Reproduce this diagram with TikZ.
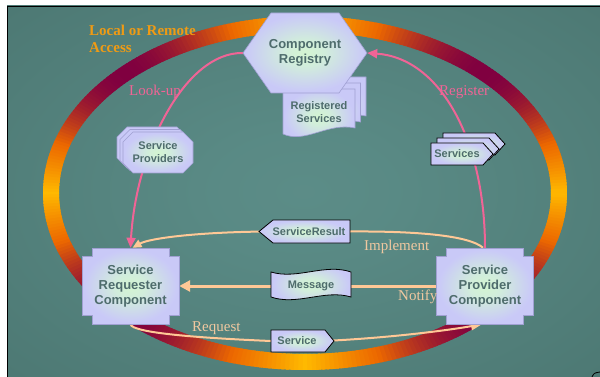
\documentclass[tikz,border=0pt]{standalone}
\usepackage{fontspec}
\setmainfont{Liberation Serif}
\setsansfont{Liberation Sans}
\usetikzlibrary{arrows.meta}

\definecolor{txtc}{RGB}{78,108,108}
\definecolor{lavEdge}{RGB}{160,160,210}
\definecolor{pinkc}{RGB}{240,100,150}
\definecolor{peachc}{RGB}{255,200,150}
\definecolor{peachtxt}{RGB}{240,200,160}
\definecolor{accessc}{RGB}{240,155,20}
\definecolor{ringYellow}{RGB}{255,185,0}
\definecolor{ringOrange}{RGB}{236,104,0}
\definecolor{ringMaroon}{RGB}{128,0,64}

\pgfdeclarelayer{back}
\pgfdeclarelayer{lines}
\pgfsetlayers{back,lines,main}

\pgfdeclareradialshading{slideglow}{\pgfpoint{0bp}{0bp}}{rgb(0bp)=(0.36,0.55,0.53); rgb(8bp)=(0.35,0.54,0.52); rgb(45bp)=(0.285,0.45,0.43); rgb(100bp)=(0.285,0.45,0.43)}
\pgfdeclareradialshading{nodeglow}{\pgfpoint{0bp}{0bp}}{rgb(0bp)=(0.83,0.96,0.82); rgb(8bp)=(0.82,0.93,0.86); rgb(24bp)=(0.79,0.79,0.97); rgb(100bp)=(0.79,0.79,0.97)}

\begin{document}
\begin{tikzpicture}[x=1pt, y=-1pt,
	comp/.style={font=\sffamily\bfseries\fontsize{13}{15}\selectfont, text=txtc, align=center, inner sep=0pt},
	item/.style={font=\sffamily\bfseries\fontsize{11}{13}\selectfont, text=txtc, align=center, inner sep=0pt},
	lbl/.style={font=\fontsize{15}{17}\selectfont, anchor=base west, inner sep=0pt},
	compshape/.style={shading=nodeglow, draw=lavEdge, line width=0.6pt},
	pageshape/.style={shading=nodeglow, draw=lavEdge, line width=0.6pt},
	itemshape/.style={shading=nodeglow, draw=black, line width=0.8pt},
	pinkarrow/.style={draw=pinkc, line width=2pt, -{Triangle[length=10pt,width=9pt]}},
	peach/.style={draw=peachc, line width=2pt}]
	\useasboundingbox (0,0) rectangle (600,377);

	% stacked shapes
	\foreach \d in {2,1,0}
		\shadedraw[pageshape, shift={(5.5*\d,-6*\d)}] (283,89) -- (355,89) -- (355,128) .. controls (328,122) and (305,144) .. (283,134) -- cycle;
	\shadedraw[compshape] (243,53) -- (271,13) -- (339,13) -- (367,53) -- (339,93) -- (271,93) -- cycle;
	\foreach \d in {2,1,0}
		\shadedraw[pageshape, shift={(-3*\d,-2.5*\d)}] (133,132) -- (183,132) -- (193,142) -- (193,163) -- (183,173) -- (133,173) -- (123,163) -- (123,142) -- cycle;
	\foreach \d in {2,1,0}
		\shadedraw[itemshape, shift={(6*\d,-5*\d)}] (431,143) -- (483,143) -- (493,154) -- (483,165) -- (431,165) -- cycle;
	\shadedraw[itemshape] (273,220) -- (350,220) -- (350,243) -- (273,243) -- (259,231.5) -- cycle;
	\shadedraw[itemshape] (271,272) .. controls (297,280) and (325,263) .. (351,272) -- (351,297) .. controls (325,289) and (297,306) .. (271,297) -- cycle;
	\shadedraw[itemshape] (271,330) -- (325,330) -- (334,341) -- (325,352) -- (271,352) -- cycle;
	\foreach \cx in {130.5,485}
		\shadedraw[compshape, shift={(\cx,286)}] (-38.5,-38) -- (38.5,-38) -- (38.5,-29.5) -- (48.5,-29.5) -- (48.5,29.5) -- (38.5,29.5) -- (38.5,38) -- (-38.5,38) -- (-38.5,29.5) -- (-48.5,29.5) -- (-48.5,-29.5) -- (-38.5,-29.5) -- cycle;

	\node[comp, minimum width=124, minimum height=80] (reg) at (305,53) {Component\\Registry};
	\node[comp, minimum width=97, minimum height=76] (req) at (130.5,286) {Service\\Requester\\Component};
	\node[comp, minimum width=97, minimum height=76] (prov) at (485,286) {Service\\Provider\\Component};
	\node[item, minimum width=72, minimum height=46] (regs) at (319,112) {Registered\\Services};
	\node[item, minimum width=70, minimum height=41] (sprov) at (158,152.5) {Service\\Providers};
	\node[item, minimum width=52, minimum height=22] (svcs) at (457,154) {Services};
	\node[item, minimum width=82, minimum height=23] (sres) at (309,231.5) {ServiceResult};
	\node[item, minimum width=80, minimum height=25] (msg) at (311,286) {Message};
	\node[item, minimum width=52, minimum height=22] (svc) at (297,341) {Service};

	\node[lbl, text=accessc, font=\bfseries\fontsize{15}{17}\selectfont, align=left] (access) at (89,53) {Local or Remote\\Access};
	\node[lbl, text=pinkc] (lookup) at (129,96) {Look-up};
	\node[lbl, text=pinkc] (register) at (439,96) {Register};
	\node[lbl, text=peachtxt] (implement) at (364,250) {Implement};
	\node[lbl, text=peachtxt] (notify) at (398,300) {Notify};
	\node[lbl, text=peachtxt] (request) at (192,331.5) {Request};

	\begin{pgfonlayer}{lines}
		\draw[pinkarrow] (reg.west) .. controls (185,52) and (136,150) .. (req.north);
		\draw[pinkarrow] (prov.north) .. controls (485,140) and (440,58) .. (reg.east);
		\draw[peach] ([xshift=-2pt]prov.north) .. controls (470,236) and (420,231) .. (sres.east);
		\draw[peach, -{Triangle[length=9pt,width=8pt]}] (sres.west) .. controls (200,232) and (150,238) .. ([xshift=2pt]req.north);
		\draw[peach, line width=3pt] (prov.west) -- (msg.east);
		\draw[peach, line width=3pt, -{Triangle[length=11pt,width=11pt]}] (msg.west) -- (req.east);
		\draw[peach] (req.south) .. controls (132,333) and (200,338) .. (svc.west);
		\draw[peach, -{Triangle[length=11pt,width=8pt]}] (svc.east) .. controls (390,338) and (450,330) .. ([xshift=-3pt]prov.south);
	\end{pgfonlayer}

	\begin{pgfonlayer}{back}
		\fill[white] (0,0) rectangle (600,377);
		\shade[shading=slideglow] (7,6) rectangle (600,377);
		\draw[line width=0.8pt] (7,377) -- (7,6) -- (600,6);
		% access ring, filled piece by piece
		\foreach \a in {0,...,359}{
			\pgfmathsetmacro{\p}{abs(sin(2*\a))}
			\pgfmathsetmacro{\ma}{min(\p/0.55,1)*100}
			\pgfmathsetmacro{\mb}{max(\p-0.55,0)/0.45*100}
			\colorlet{ringA}{ringOrange!\ma!ringYellow}
			\colorlet{ringB}{ringMaroon!\mb!ringA}
			\fill[ringB] ({305+262*cos(\a-0.5)},{193+177*sin(\a-0.5)}) -- ({305+262*cos(\a+1.2)},{193+177*sin(\a+1.2)})
				-- ({305+246*cos(\a+1.2)},{193+161*sin(\a+1.2)}) -- ({305+246*cos(\a-0.5)},{193+161*sin(\a-0.5)}) -- cycle;
		}
		\draw[line width=0.8pt] (592,377) .. controls (594,373) .. (600,372);
	\end{pgfonlayer}
\end{tikzpicture}
\end{document}
